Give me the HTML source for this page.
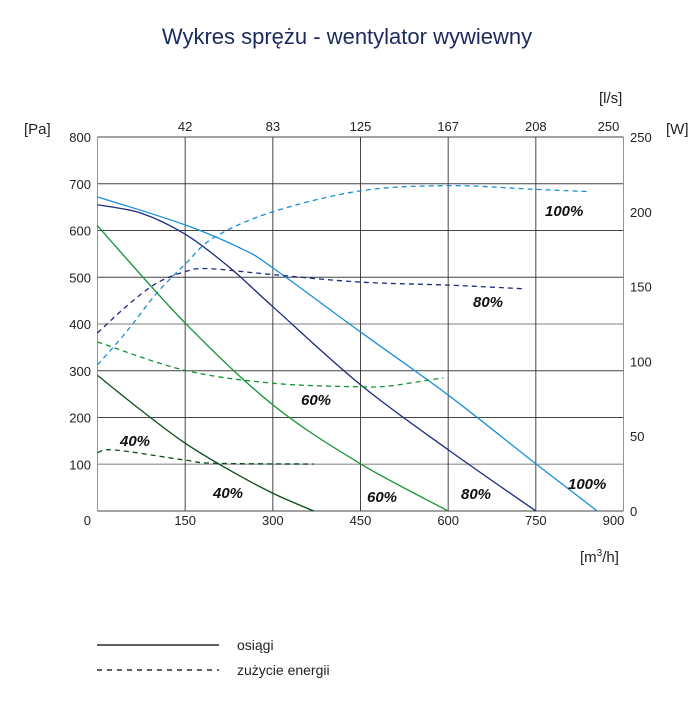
<!DOCTYPE html>
<html><head><meta charset="utf-8"><style>
body{margin:0;background:#fff;}
svg{display:block;font-family:"Liberation Sans",sans-serif;}
</style></head><body>
<svg id="c" width="699" height="719" viewBox="0 0 699 719">
<text x="347" y="44" text-anchor="middle" font-size="22" fill="#1b2a5e">Wykres sprężu - wentylator wywiewny</text>
<g id="grid"></g>
<g id="curves"></g>
<g id="labels"></g>
<text x="24" y="134" font-size="15" fill="#222">[Pa]</text>
<text x="666" y="134" font-size="15" fill="#222">[W]</text>
<text x="599" y="103" font-size="15" fill="#222">[l/s]</text>
<text x="580" y="562" font-size="15" fill="#222">[m<tspan dy="-6" font-size="10">3</tspan><tspan dy="6">/h]</tspan></text>
<line x1="97" y1="645" x2="219" y2="645" stroke="#000" stroke-width="1.3"/>
<text x="237" y="650" font-size="14" fill="#222">osiągi</text>
<line x1="97" y1="670" x2="219" y2="670" stroke="#000" stroke-width="1.3" stroke-dasharray="5,5"/>
<text x="237" y="675" font-size="14" fill="#222">zużycie energii</text>
</svg>
<script>
const xTicks=[0,150,300,450,600,750,900];
const topTicks=["42","83","125","167","208","250"];
const yTicks=[0,100,200,300,400,500,600,700,800];
const wTicks=[0,50,100,150,200,250];
const p100x=[0,150,250,300,450,600,750,855];
const p100y=[672,612,559,520,383,248,101,0];
const p80x=[0,75,150,225,300,450,600,750];
const p80y=[655,637,592,522,437,270,131,0];
const p60x=[0,150,300,450,600];
const p60y=[610,402,227,101,0];
const p40x=[0,75,150,225,300,370];
const p40y=[290,215,145,88,38,0];
const e100x=[0,50,100,150,200,300,450,600,750,843];
const e100y=[97.7,120,145,165,183,200,214,217.5,215,213.5];
const e80x=[0,50,100,150,190,300,450,600,732];
const e80y=[119,137,152,160,162,158,153,151,148.5];
const e60x=[0,150,300,450,500,550,592];
const e60y=[113,94,85.4,83,83.6,86.5,89];
const e40x=[0,30,150,200,370];
const e40y=[39,40.8,34,31.9,31.4];
const X0=97.5,X1=623.5,Y0=511,Y1=137;
const sx=v=>X0+(X1-X0)*v/900;
const sy=v=>Y0-(Y0-Y1)*v/800;
const sw=v=>Y0-(Y0-Y1)*v/250;
const NS="http://www.w3.org/2000/svg";
function mk(t,a,p){const e=document.createElementNS(NS,t);for(const k in a)e.setAttribute(k,a[k]);p.appendChild(e);return e;}
const g=document.getElementById('grid');
yTicks.forEach(v=>{
 const l=mk('line',{x1:X0,x2:X1,y1:sy(v),y2:sy(v),stroke:(v==100||v==400)?'#aaa':'#444','stroke-width':(v==100||v==400)?1.6:0.9},g);
 
 
 const t=mk('text',{x:(v==0?91:91),y:(v==0?sy(v)+14:sy(v)+5),'text-anchor':'end','font-size':13,fill:'#222'},g);
 t.textContent=String(v);
 
 
});
xTicks.forEach((v,i)=>{
 const l=mk('line',{x1:sx(v),x2:sx(v),y1:Y0,y2:Y1,stroke:(i==0||i==6)?'#888':'#333','stroke-width':0.9},g);
 
 
 if(i==0)return;
 const t=mk('text',{x:(i==6?sx(v)-10:sx(v)),y:525,'text-anchor':'middle','font-size':13,fill:'#222'},g);
 t.textContent=String(v);
 
 
});
topTicks.forEach((s,i)=>{
 const t=mk('text',{x:(i==5?sx(900)-15:sx(xTicks[i+1])),y:131,'text-anchor':'middle','font-size':13,fill:'#222'},g);
 t.textContent=s;
 
 
});
wTicks.forEach(v=>{
 const t=mk('text',{x:630,y:sw(v)+5,'font-size':13,fill:'#222'},g);
 t.textContent=String(v);
 
 
});
function path(px){let d='M'+px[0][0]+','+px[0][1];
 for(let i=0;i<px.length-1;i++){const p0=px[Math.max(0,i-1)],p1=px[i],p2=px[i+1],p3=px[Math.min(px.length-1,i+2)];
  const c1=[p1[0]+(p2[0]-p0[0])/6,p1[1]+(p2[1]-p0[1])/6],c2=[p2[0]-(p3[0]-p1[0])/6,p2[1]-(p3[1]-p1[1])/6];
  d+=' C'+c1+' '+c2+' '+p2;}return d;}
const cg=document.getElementById('curves');
function curve(xs,ys,fy,col,dash,name){
 const pts=xs.map((x,i)=>[sx(x),fy(ys[i])]);
 const a={d:path(pts),fill:'none',stroke:col,'stroke-width':1.3};if(dash)a['stroke-dasharray']='5,4';
 const e=mk('path',a,cg);
 
 
}
curve(p100x,p100y,sy,'#1a8fd6',0,'pressure-100');
curve(p80x,p80y,sy,'#1c2a80',0,'pressure-80');
curve(p60x,p60y,sy,'#119433',0,'pressure-60');
curve(p40x,p40y,sy,'#0b4d1a',0,'pressure-40');
curve(e100x,e100y,sw,'#1a8fd6',1,'energy-100');
curve(e80x,e80y,sw,'#1c2a80',1,'energy-80');
curve(e60x,e60y,sw,'#119433',1,'energy-60');
curve(e40x,e40y,sw,'#0b4d1a',1,'energy-40');
const lg=document.getElementById('labels');
[["100%",545,216],["80%",473,307],["60%",301,405],["40%",120,446],["40%",213,498],["60%",367,502],["80%",461,499],["100%",568,489]].forEach(l=>{
 const t=mk('text',{x:l[1],y:l[2],'font-size':15,'font-weight':'bold','font-style':'italic',fill:'#111'},lg);
 t.textContent=l[0];
 
 
});
</script>
</body></html>
